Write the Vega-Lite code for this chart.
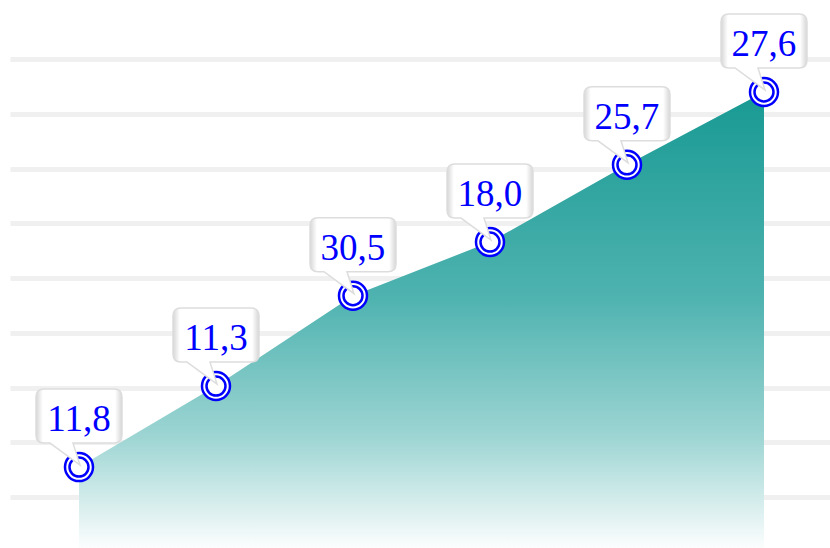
{
  "$schema": "https://vega.github.io/schema/vega-lite/v6.json",
  "width": 830,
  "height": 548,
  "autosize": {"type": "fit", "contains": "padding"},
  "padding": {"left": 10, "top": 0, "right": 0, "bottom": 0},
  "background": "white",
  "config": {"view": {"stroke": null}},
  "data": {
    "values": [
      {"i": 0, "value": 15.5, "label": "11,8"},
      {"i": 1, "value": 30.3, "label": "11,3"},
      {"i": 2, "value": 46.8, "label": "30,5"},
      {"i": 3, "value": 56.6, "label": "18,0"},
      {"i": 4, "value": 70.7, "label": "25,7"},
      {"i": 5, "value": 84.0, "label": "27,6"}
    ]
  },
  "encoding": {
    "x": {
      "field": "i",
      "type": "quantitative",
      "scale": {"domain": [-0.5036, 5.4818], "nice": false, "zero": false},
      "axis": null
    },
    "y": {
      "field": "value",
      "type": "quantitative",
      "scale": {"domain": [0.73, 100.8], "nice": false, "zero": false},
      "axis": {
        "values": [10, 20, 30, 40, 50, 60, 70, 80, 90],
        "grid": true,
        "gridColor": "#f0f0f0",
        "gridWidth": 5,
        "gridOpacity": 1,
        "domain": false,
        "ticks": false,
        "labels": false,
        "title": null,
        "minExtent": 0,
        "maxExtent": 0
      }
    }
  },
  "layer": [
    {
      "mark": {
        "type": "area",
        "clip": true,
        "opacity": 1,
        "color": {
          "gradient": "linear",
          "x1": 0, "y1": 0, "x2": 0, "y2": 1,
          "stops": [
            {"offset": 0, "color": "#189993"},
            {"offset": 0.45, "color": "#4fb3b0"},
            {"offset": 0.75, "color": "#9dd5d3"},
            {"offset": 1, "color": "#ffffff"}
          ]
        }
      }
    },
    {
      "mark": {"type": "point", "shape": "circle", "size": 784, "filled": true, "fill": "white", "stroke": "#0000ff", "strokeWidth": 2.5, "opacity": 1}
    },
    {
      "mark": {"type": "point", "shape": "circle", "size": 361, "filled": true, "fill": "white", "stroke": "#0000ff", "strokeWidth": 2.5, "opacity": 1}
    },
    {
      "mark": {
        "type": "point",
        "shape": "M -0.70 -1.56 L 0.70 -1.56 Q 0.86 -1.56 0.86 -1.40 L 0.86 -0.64 Q 0.86 -0.48 0.70 -0.48 L -0.12 -0.48 L 0.02 -0.04 L -0.58 -0.48 L -0.70 -0.48 Q -0.86 -0.48 -0.86 -0.64 L -0.86 -1.40 Q -0.86 -1.56 -0.70 -1.56 Z",
        "size": 10000,
        "filled": true,
        "opacity": 1,
        "fill": {
          "gradient": "linear",
          "x1": 0, "y1": 0, "x2": 1, "y2": 0,
          "stops": [
            {"offset": 0, "color": "#d6d6d6"},
            {"offset": 0.08, "color": "#ffffff"},
            {"offset": 0.92, "color": "#ffffff"},
            {"offset": 1, "color": "#d6d6d6"}
          ]
        },
        "stroke": "#dddddd",
        "strokeWidth": 1.5
      }
    },
    {
      "mark": {"type": "text", "font": "Liberation Serif", "fontSize": 37, "fill": "#0000ff", "baseline": "alphabetic", "align": "center", "dy": -36},
      "encoding": {"text": {"field": "label"}}
    }
  ]
}
